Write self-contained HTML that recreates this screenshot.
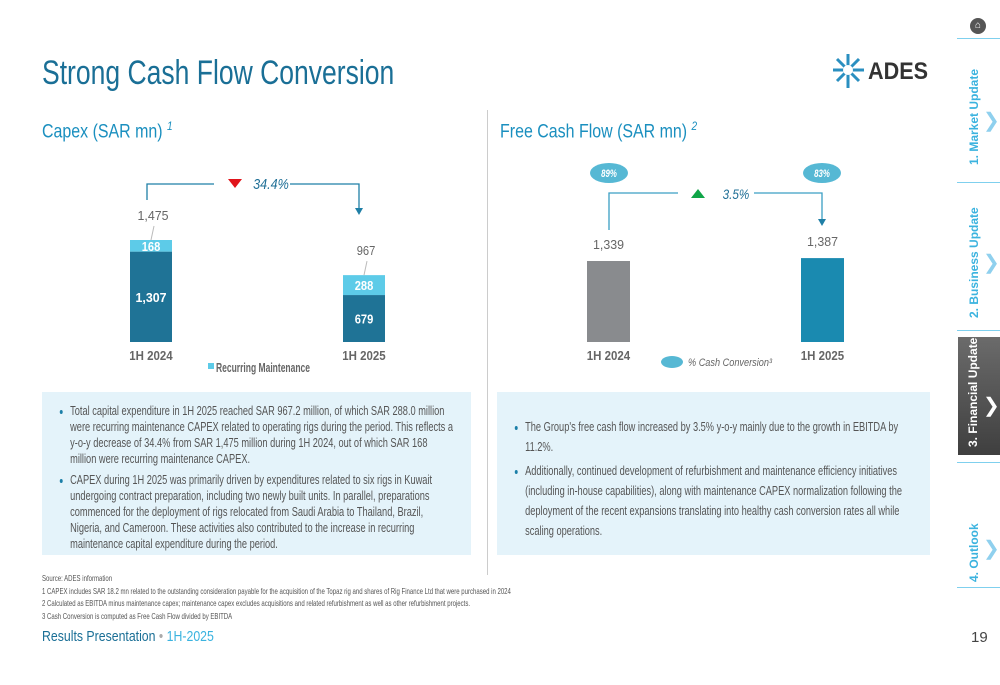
<!DOCTYPE html>
<html><head><meta charset="utf-8">
<style>
body{margin:0;width:1000px;height:685px;overflow:hidden;background:#fff;font-family:"Liberation Sans",sans-serif;position:relative}
.abs{position:absolute}
.box{background:#e4f3fa;color:#555;font-size:12.5px;line-height:20px;overflow:hidden}
.cond{transform:scaleX(0.74);transform-origin:left top}
.box ul{margin:0;padding:0 0 0 24px}
.box li{margin-bottom:4px}
.box li::marker{color:#1b7fa8}
.fn{font-size:8.5px;color:#555;line-height:12.5px;white-space:nowrap;transform:scaleX(0.71);transform-origin:left top}
.vt{position:absolute;transform:rotate(-90deg);transform-origin:left top;white-space:nowrap;font-size:12px;font-weight:bold;color:#3bb3df}
.sep{position:absolute;left:957px;width:43px;height:1px;background:#7fd0ee}
svg text{font-family:"Liberation Sans",sans-serif}
</style></head><body>
<div class="abs" style="left:42px;top:54px;font-size:34px;color:#1a6f96;transform:scaleX(0.78);transform-origin:left;white-space:nowrap">Strong Cash Flow Conversion</div>
<svg class="abs" style="left:828px;top:50px" width="105" height="44" viewBox="0 0 105 44">
<g stroke="#2a8fc0" stroke-width="3" fill="none"><line x1="20" y1="20" x2="20" y2="4"/><line x1="20" y1="20" x2="20" y2="38"/><line x1="20" y1="20" x2="5" y2="20"/><line x1="20" y1="20" x2="36" y2="20"/><line x1="20" y1="20" x2="9" y2="9"/><line x1="20" y1="20" x2="31" y2="31"/><line x1="20" y1="20" x2="31" y2="9"/><line x1="20" y1="20" x2="9" y2="31"/></g>
<circle cx="20" cy="20" r="5" fill="#fff"/>
<text x="40" y="29" font-size="24" font-weight="bold" fill="#333" textLength="60" lengthAdjust="spacingAndGlyphs">ADES</text></svg>
<div class="abs" style="left:42px;top:119px;font-size:19px;color:#1a8fbf;transform:scaleX(0.84);transform-origin:left;white-space:nowrap">Capex (SAR mn) <i style="font-size:12px;vertical-align:super">1</i></div>
<div class="abs" style="left:500px;top:119px;font-size:19px;color:#1a8fbf;transform:scaleX(0.84);transform-origin:left;white-space:nowrap">Free Cash Flow (SAR mn) <i style="font-size:12px;vertical-align:super">2</i></div>
<div class="abs" style="left:487px;top:110px;width:1px;height:465px;background:#ccc"></div>

<svg class="abs" id="capex" style="left:0;top:160px" width="480" height="225"></svg>
<svg class="abs" id="fcf" style="left:490px;top:150px" width="460" height="235"></svg>

<div class="abs box" style="left:42px;top:392px;width:429px;height:163px;line-height:16px">
<div class="cond" style="width:545px;padding:11px 0 0 14px"><ul><li style="margin-bottom:5px">Total capital expenditure in 1H 2025 reached SAR 967.2 million, of which SAR 288.0 million were recurring maintenance CAPEX related to operating rigs during the period. This reflects a y-o-y decrease of 34.4% from SAR 1,475 million during 1H 2024, out of which SAR 168 million were recurring maintenance CAPEX.</li>
<li>CAPEX during 1H 2025 was primarily driven by expenditures related to six rigs in Kuwait undergoing contract preparation, including two newly built units. In parallel, preparations commenced for the deployment of rigs relocated from Saudi Arabia to Thailand, Brazil, Nigeria, and Cameroon. These activities also contributed to the increase in recurring maintenance capital expenditure during the period.</li></ul></div></div>
<div class="abs box" style="left:497px;top:392px;width:433px;height:163px">
<div class="cond" style="width:545px;padding:25px 0 0 14px"><ul><li>The Group's free cash flow increased by 3.5% y-o-y mainly due to the growth in EBITDA by 11.2%.</li>
<li>Additionally, continued development of refurbishment and maintenance efficiency initiatives (including in-house capabilities), along with maintenance CAPEX normalization following the deployment of the recent expansions translating into healthy cash conversion rates all while scaling operations.</li></ul></div></div>

<div class="abs fn" style="left:42px;top:572px">Source: ADES information<br>1 CAPEX includes SAR 18.2 mn related to the outstanding consideration payable for the acquisition of the Topaz rig and shares of Rig Finance Ltd that were purchased in 2024<br>2 Calculated as EBITDA minus maintenance capex; maintenance capex excludes acquisitions and related refurbishment as well as other refurbishment projects.<br>3 Cash Conversion is computed as Free Cash Flow divided by EBITDA</div>
<div class="abs" style="left:42px;top:628px;font-size:15px;color:#1a6f96;transform:scaleX(0.82);transform-origin:left;white-space:nowrap">Results Presentation <span style="color:#aaa">•</span> <span style="color:#3bb3df">1H-2025</span></div>

<div class="abs" style="left:970px;top:18px;width:16px;height:16px;border-radius:50%;background:#555;color:#fff;font-size:10px;text-align:center;line-height:16px">⌂</div>
<div class="sep" style="top:38px"></div><div class="sep" style="top:182px"></div><div class="sep" style="top:330px"></div><div class="sep" style="top:462px"></div><div class="sep" style="top:587px"></div>
<div class="vt" style="left:967px;top:165px">1. Market Update</div>
<div class="abs" style="left:983px;top:108px;color:#8fd0ee;font-size:20px">❯</div>
<div class="vt" style="left:967px;top:318px">2. Business Update</div>
<div class="abs" style="left:983px;top:250px;color:#8fd0ee;font-size:20px">❯</div>
<div class="abs" style="left:958px;top:337px;width:42px;height:118px;background:linear-gradient(#6b6b6b,#3f3f3f)"></div>
<div class="vt" style="left:966px;top:447px;color:#fff">3. Financial Update</div>
<div class="abs" style="left:983px;top:393px;color:#fff;font-size:20px">❯</div>
<div class="vt" style="left:967px;top:582px">4. Outlook</div>
<div class="abs" style="left:983px;top:536px;color:#8fd0ee;font-size:20px">❯</div>
<div class="abs" style="left:971px;top:629px;font-size:15px;color:#444">19</div>

<script>
const capexCats=["1H 2024","1H 2025"];
const capexCore=[1307,679];
const capexMaint=[168,288];
const capexChange="34.4%";
const fcfCats=["1H 2024","1H 2025"];
const fcfValues=[1339,1387];
const fcfConv=["89%","83%"];
const fcfChange="3.5%";
const NS="http://www.w3.org/2000/svg";
function mk(svg,tag,at,txt){const e=document.createElementNS(NS,tag);for(const k in at)e.setAttribute(k,at[k]);if(txt!==undefined)e.textContent=txt;svg.appendChild(e);return e;}
function tx(svg,x,y,str,at){const w=str.length*6.2*(at.fs||13)/13;const a=Object.assign({x:x-w/2,y:y,textLength:w,lengthAdjust:'spacingAndGlyphs','font-size':at.fs||13},at);delete a.fs;return mk(svg,'text',a,str);}
(function(){
const s=document.getElementById('capex');
const base=182, sc=102/1475, xs=[130,343], bw=42;
const y=v=>base-v*sc;
const tops=[];
capexCats.forEach((c,i)=>{
 const x=xs[i], tot=capexCore[i]+capexMaint[i];
 const r1=mk(s,'rect',{x:x,y:y(capexCore[i]),width:bw,height:capexCore[i]*sc,fill:'#1f7396'});
 
 
 const r2=mk(s,'rect',{x:x,y:y(tot),width:bw,height:capexMaint[i]*sc,fill:'#5dcbe8'});
 
 
 tx(s,x+bw/2,y(capexCore[i]/2)+5,capexCore[i].toLocaleString('en-US'),{fill:'#fff','font-weight':'bold'});
 tx(s,x+bw/2,y(capexCore[i]+capexMaint[i]/2)+5,capexMaint[i].toLocaleString('en-US'),{fill:'#fff','font-weight':'bold'});
 mk(s,'line',{x1:x+bw/2,y1:y(tot),x2:x+bw/2+3,y2:y(tot)-14,stroke:'#bbb'});
 tx(s,x+bw/2+2,y(tot)-20,tot.toLocaleString('en-US'),{fill:'#666'});
 tx(s,x+bw/2,base+18,c,{fill:'#666','font-weight':'bold'});
 tops.push(y(tot));
});
const ay=24;
mk(s,'polyline',{points:`147,${tops[0]-40} 147,${ay} 214,${ay}`,fill:'none',stroke:'#1f7fa6','stroke-width':1.3});
mk(s,'polyline',{points:`290,${ay} 359,${ay} 359,${ay+24}`,fill:'none',stroke:'#1f7fa6','stroke-width':1.3});
mk(s,'polygon',{points:`355,${ay+24} 363,${ay+24} 359,${ay+31}`,fill:'#1f7fa6'});
mk(s,'polygon',{points:'228,19 242,19 235,28',fill:'#e0141b'});
tx(s,271,29,capexChange,{fill:'#1f6f96',fs:15,'font-style':'italic'});
mk(s,'rect',{x:208,y:203,width:6,height:6,fill:'#5dcbe8'});
mk(s,'text',{x:216,y:212,fill:'#666','font-size':13,'font-weight':'bold',textLength:94,lengthAdjust:'spacingAndGlyphs'},'Recurring Maintenance');
})();
(function(){
const s=document.getElementById('fcf');
const base=192, sc=81/1339, xs=[97,311], bw=43, cols=['#898b8e','#1a8ab0'];
const y=v=>base-v*sc;
fcfCats.forEach((c,i)=>{
 const x=xs[i];
 const r=mk(s,'rect',{x:x,y:y(fcfValues[i]),width:bw,height:fcfValues[i]*sc,fill:cols[i]});
 
 
 tx(s,x+bw/2,y(fcfValues[i])-12,fcfValues[i].toLocaleString('en-US'),{fill:'#666'});
 tx(s,x+bw/2,base+18,c,{fill:'#666','font-weight':'bold'});
 const cx=[119,332][i];
 mk(s,'ellipse',{cx:cx,cy:23,rx:19,ry:10,fill:'#56b8d4'});
 tx(s,cx,27,fcfConv[i],{fill:'#fff',fs:11,'font-weight':'bold','font-style':'italic'});
});
const ay=43;
mk(s,'polyline',{points:`119,80 119,${ay} 188,${ay}`,fill:'none',stroke:'#3a9fc4','stroke-width':1.3});
mk(s,'polyline',{points:`264,${ay} 332,${ay} 332,${ay+26}`,fill:'none',stroke:'#3a9fc4','stroke-width':1.3});
mk(s,'polygon',{points:`328,${ay+26} 336,${ay+26} 332,${ay+33}`,fill:'#1f7fa6'});
mk(s,'polygon',{points:'201,48 215,48 208,39',fill:'#10a548'});
tx(s,246,49,fcfChange,{fill:'#1f6f96',fs:14,'font-style':'italic'});
mk(s,'ellipse',{cx:182,cy:212,rx:11,ry:6,fill:'#56b8d4'});
mk(s,'text',{x:198,y:216,fill:'#666','font-size':11,'font-style':'italic',textLength:84,lengthAdjust:'spacingAndGlyphs'},'% Cash Conversion³');
})();
</script>
</body></html>
